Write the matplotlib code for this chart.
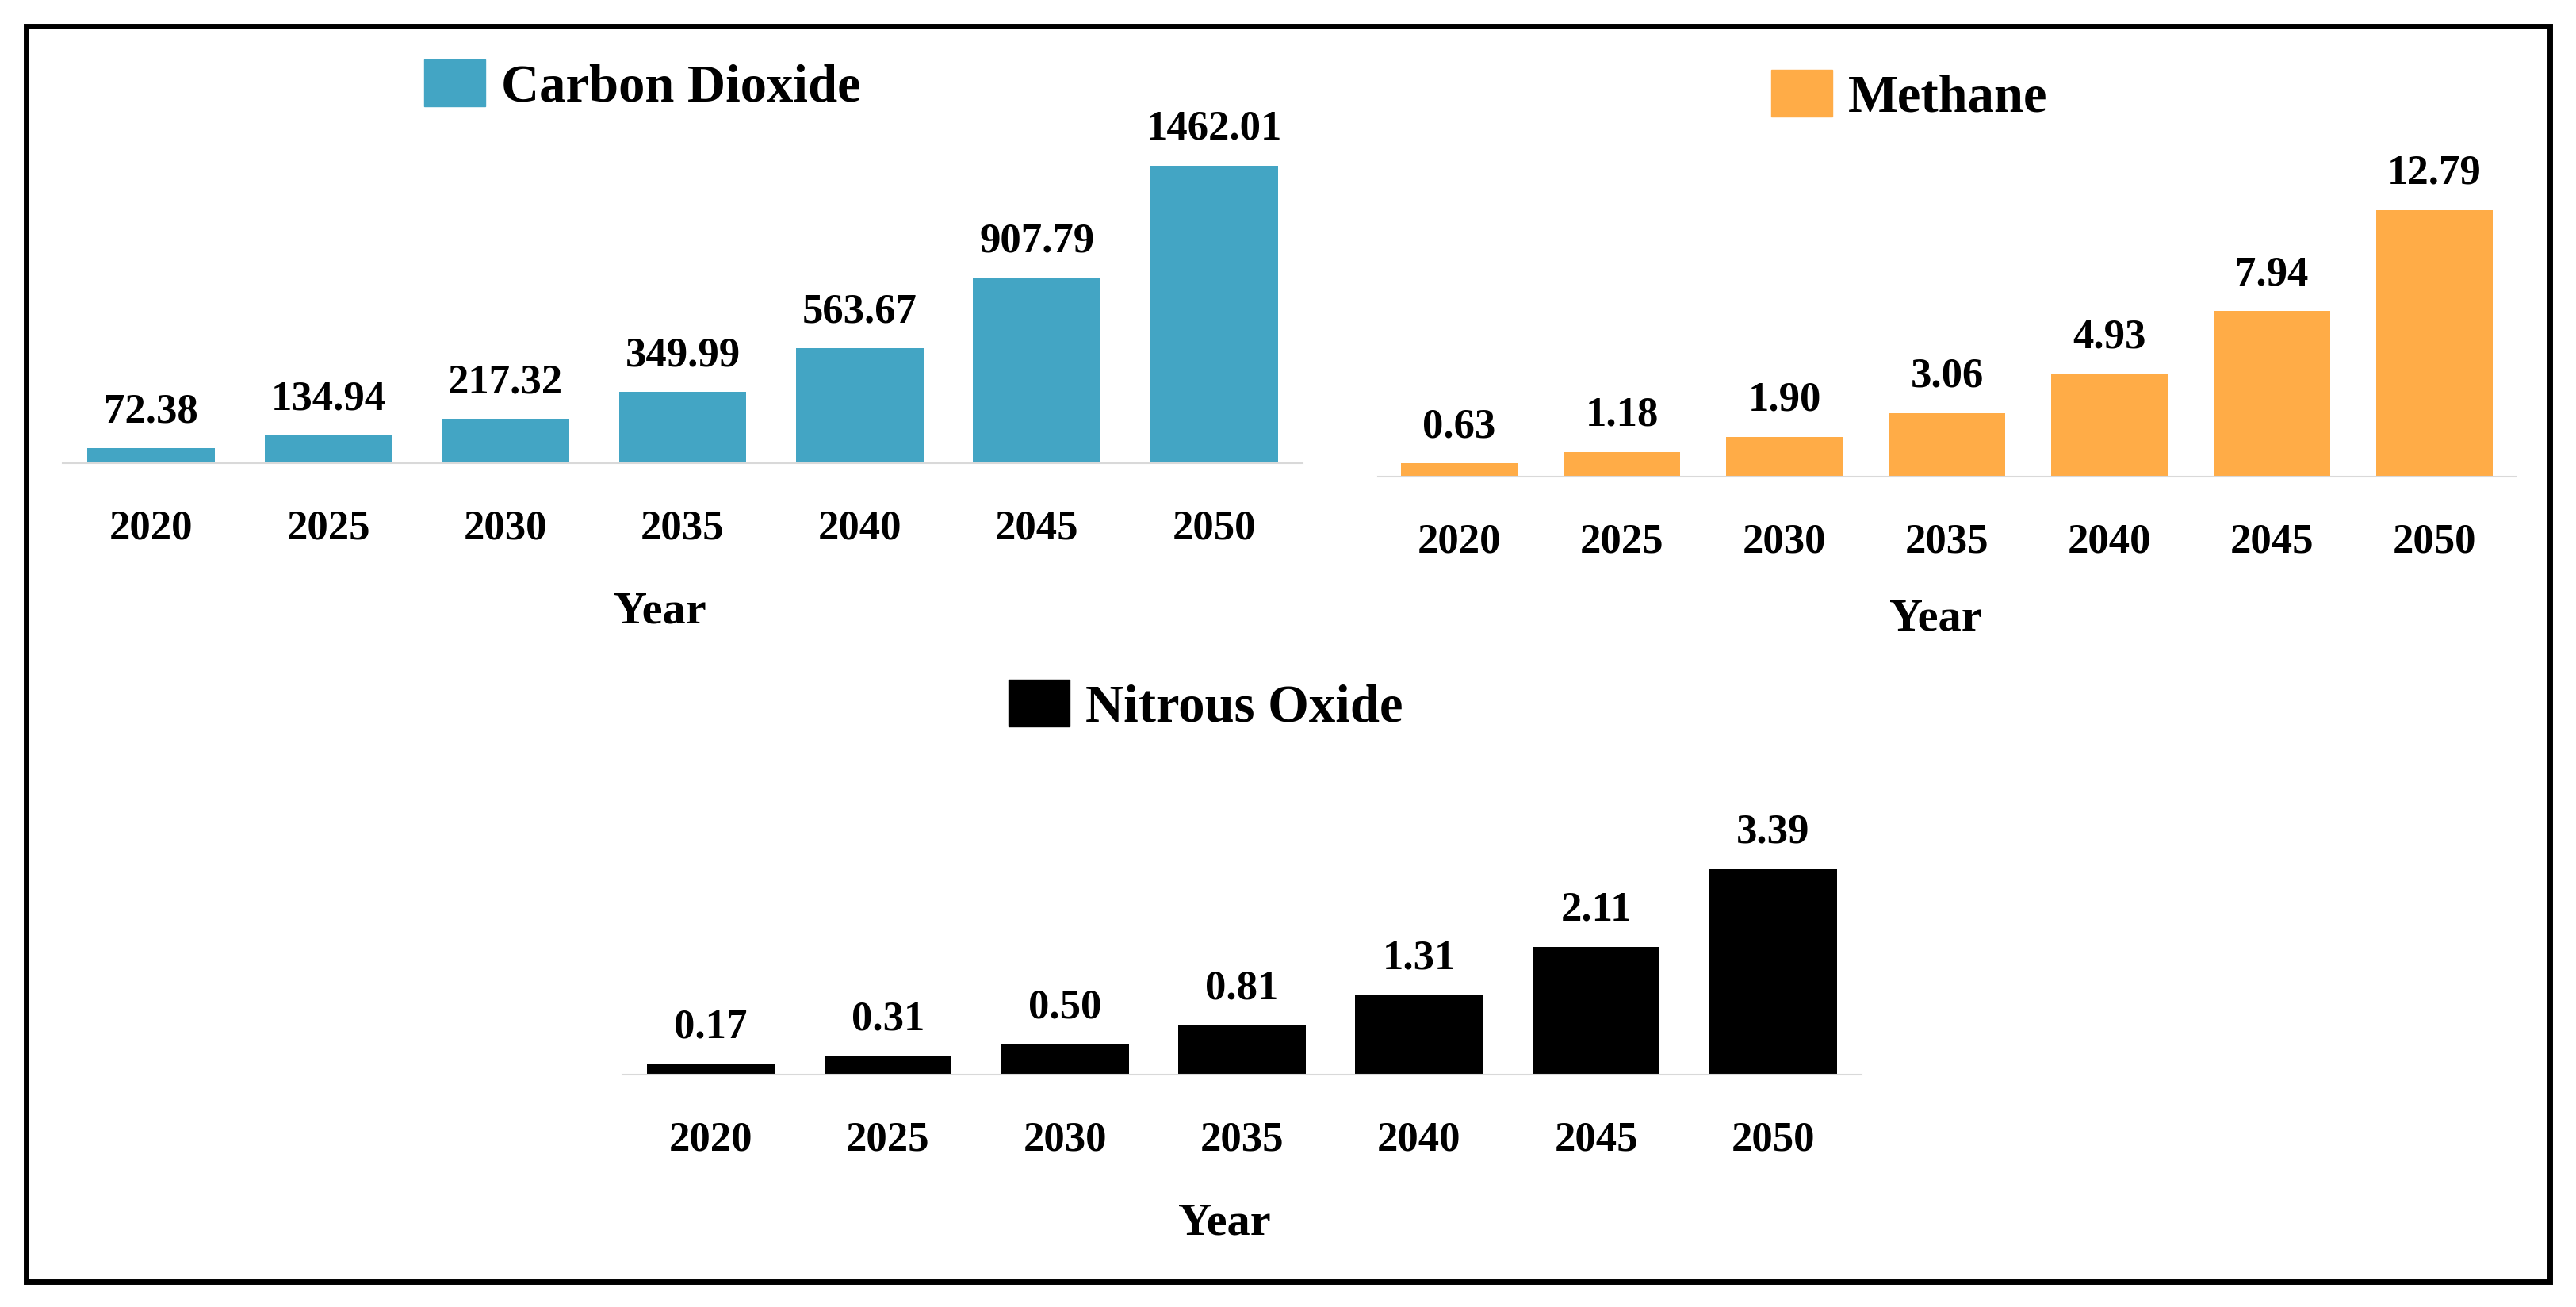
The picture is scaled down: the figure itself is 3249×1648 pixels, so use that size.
import matplotlib
matplotlib.use("Agg")
import matplotlib.pyplot as plt
from matplotlib.patches import Rectangle, Patch

# Data
years = ["2020", "2025", "2030", "2035", "2040", "2045", "2050"]
co2 = [72.38, 134.94, 217.32, 349.99, 563.67, 907.79, 1462.01]
ch4 = [0.63, 1.18, 1.90, 3.06, 4.93, 7.94, 12.79]
n2o = [0.17, 0.31, 0.50, 0.81, 1.31, 2.11, 3.39]
names = ["Carbon Dioxide", "Methane", "Nitrous Oxide"]
colors = ["#43A5C4", "#FFAC47", "#000000"]

plt.rcParams['font.family'] = ['Liberation Serif', 'DejaVu Serif']
plt.rcParams['font.weight'] = 'bold'

W, H = 3249, 1648
fig = plt.figure(figsize=(W / 100, H / 100), dpi=100)

# panel layout in pixels: left, right, baseline, top of max bar, legend x, legend y,
# xlabel pad, xlabel x position (axes fraction)
layout = [
    (79, 1643, 584, 209, 535, 108, 40, 0.482),
    (1738, 3173, 601, 265, 2234, 121, 34, 0.490),
    (785, 2348, 1355, 1096, 1272, 890, 40, 0.486),
]


def draw_panel(values, name, color, lay):
    left, right, base, top, lx, ly, lpad, lxpos = lay
    vmax = max(values)
    ppu = (base - top) / vmax
    ymax = vmax * 1.2
    h = ymax * ppu
    ax = fig.add_axes([left / W, 1 - base / H, (right - left) / W, h / H])
    bars = ax.bar(range(len(years)), values, width=0.72, color=color)
    ax.bar_label(bars, fmt="%.2f", padding=16, fontsize=38, fontweight="bold")
    ax.set_xlim(-0.5, len(years) - 0.5)
    ax.set_ylim(0, ymax)
    ax.set_xticks(range(len(years)))
    ax.set_xticklabels(years, fontsize=38, fontweight="bold")
    ax.tick_params(axis="x", length=0, pad=42)
    ax.set_yticks([])
    for s in ["top", "left", "right"]:
        ax.spines[s].set_visible(False)
    ax.spines["bottom"].set_color("#D9D9D9")
    ax.spines["bottom"].set_linewidth(1.5)
    ax.set_xlabel("Year", fontsize=42, fontweight="bold", labelpad=lpad)
    ax.xaxis.label.set_x(lxpos)
    ax.legend(handles=[Patch(color=color)], labels=[name], loc="center left",
              bbox_to_anchor=(lx / W, 1 - ly / H), bbox_transform=fig.transFigure,
              frameon=False, borderpad=0, borderaxespad=0, handlelength=1.15,
              handleheight=1.0, handletextpad=0.3, prop={"size": 48, "weight": "bold"})
    return ax


draw_panel(co2, names[0], colors[0], layout[0])
draw_panel(ch4, names[1], colors[1], layout[1])
draw_panel(n2o, names[2], colors[2], layout[2])

# outer frame
fig.patches.append(Rectangle((33 / W, 32 / H), (3216 - 33) / W, (1616 - 33) / H,
                             transform=fig.transFigure, fill=False, lw=5, ec="black"))

fig.savefig("out.png", dpi=100)
